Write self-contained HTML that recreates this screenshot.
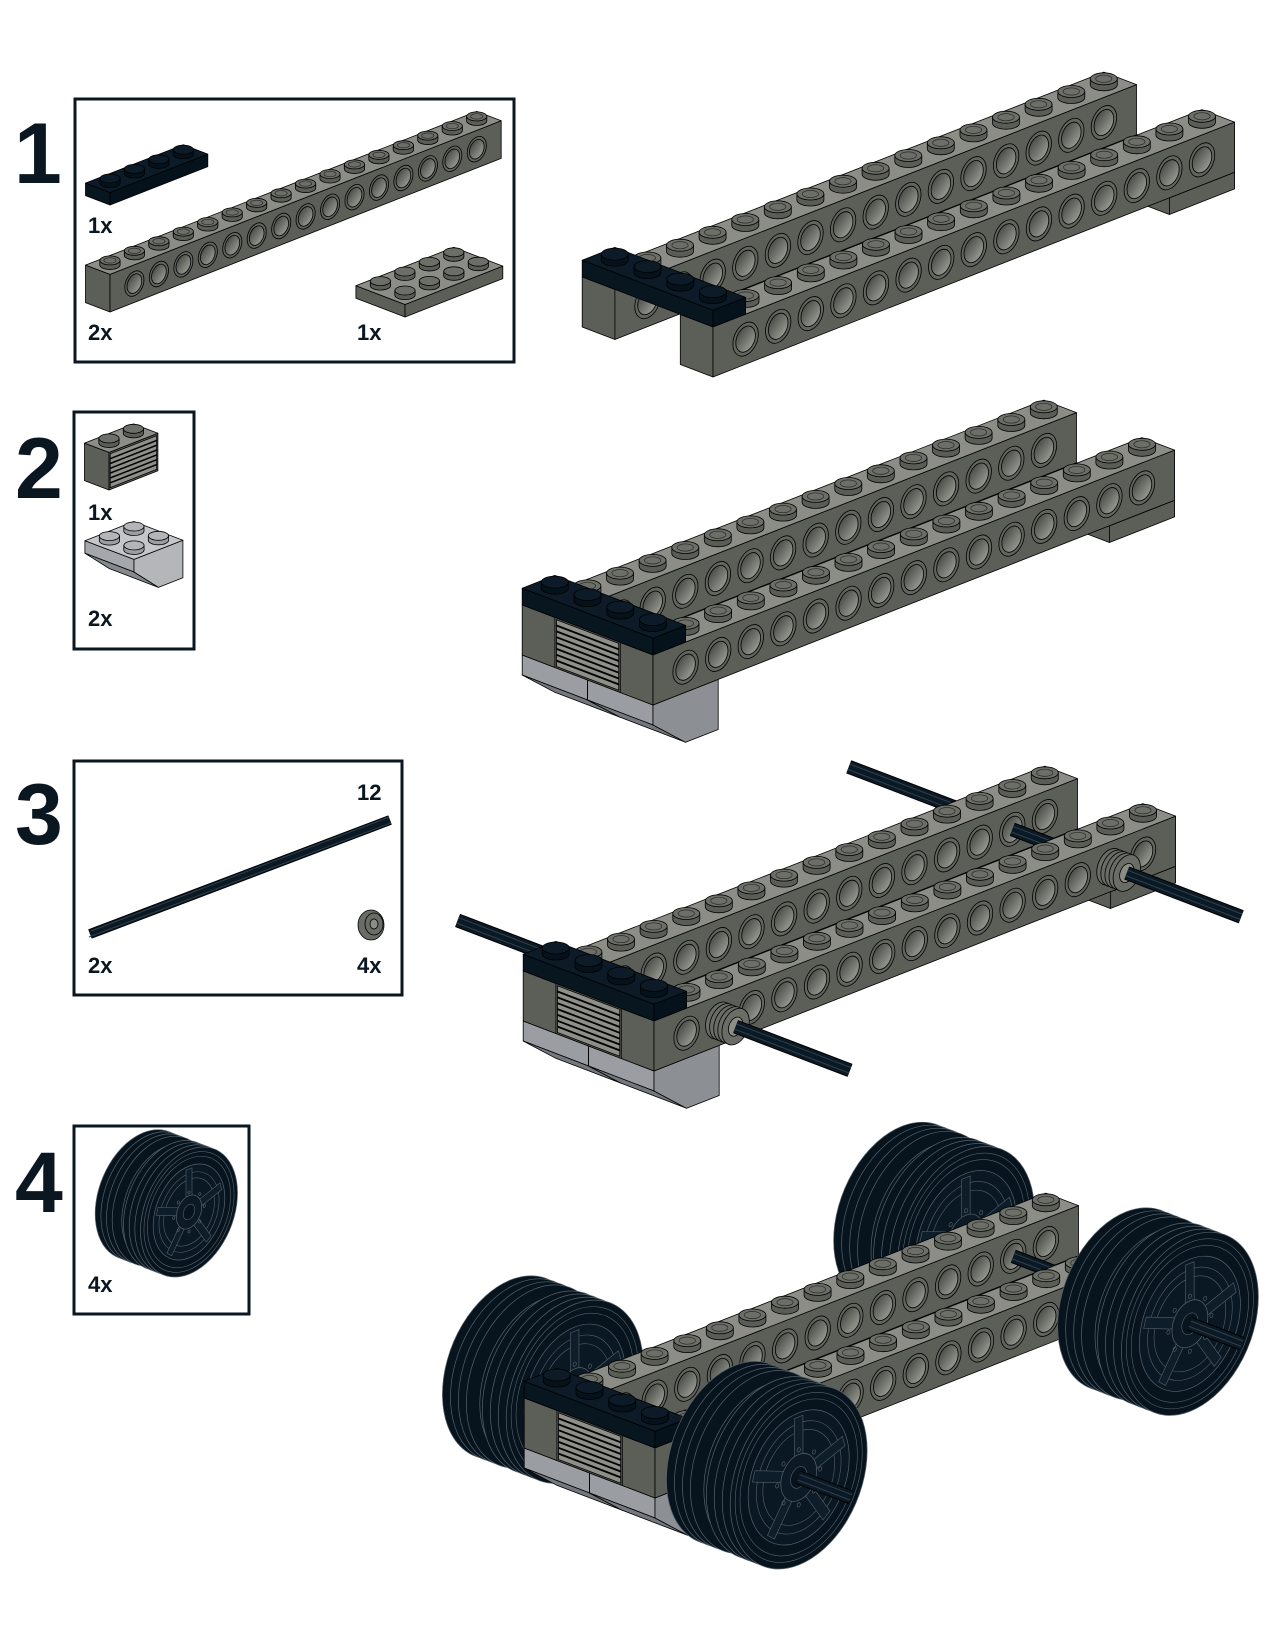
<!DOCTYPE html>
<html><head><meta charset="utf-8">
<style>
html,body{margin:0;padding:0;background:#fff;width:1275px;height:1650px;overflow:hidden}
svg{display:block}
.n{font-family:"Liberation Sans",sans-serif;font-weight:bold;font-size:86px;fill:#0a1620}
.l{font-family:"Liberation Sans",sans-serif;font-weight:bold;font-size:22px;fill:#0a1620}
</style></head>
<body>
<svg id="s" width="1275" height="1650" viewBox="0 0 1275 1650" xmlns="http://www.w3.org/2000/svg">
<defs>
<linearGradient id="hg" x1="0" y1="1" x2="0.8" y2="0">
<stop offset="0" stop-color="#3e403b"/><stop offset="1" stop-color="#9a9c95"/>
</linearGradient>
</defs>
<rect x="75" y="99" width="439" height="263" fill="none" stroke="#0a1620" stroke-width="3"/>
<rect x="74" y="412" width="120" height="237" fill="none" stroke="#0a1620" stroke-width="3"/>
<rect x="74" y="761" width="328" height="234" fill="none" stroke="#0a1620" stroke-width="3"/>
<rect x="74" y="1126" width="175" height="188" fill="none" stroke="#0a1620" stroke-width="3"/>
<g id="g"></g>
<text class="n" x="14" y="183">1</text>
<text class="n" x="15" y="498">2</text>
<text class="n" x="15" y="844">3</text>
<text class="n" x="15" y="1212">4</text>
<text class="l" x="88" y="233">1x</text>
<text class="l" x="88" y="340">2x</text>
<text class="l" x="357" y="340">1x</text>
<text class="l" x="88" y="520">1x</text>
<text class="l" x="88" y="626">2x</text>
<text class="l" x="357" y="800">12</text>
<text class="l" x="88" y="973">2x</text>
<text class="l" x="357" y="973">4x</text>
<text class="l" x="88" y="1292">4x</text>
</svg>
<script>
(function(){
var out=[];
var C={top:'#8b8d86',front:'#5c5e58',side:'#5c5e58',stTop:'#6c6e68',stSide:'#5a5c56'};
var BK={top:'#0c1b27',front:'#06121b',side:'#081620',stTop:'#0c1b27',stSide:'#06121b'};
function f(n){return n.toFixed(1);}
function M(O,s){var u=[32.6*s,-12.8*s],v=[-32.7*s,-12.5*s],ph=16.7*s;
 var P=function(x,y,z){return [O[0]+x*u[0]+y*v[0],O[1]+x*u[1]+y*v[1]-z*ph];};
 P.s=s;P.u=u;P.v=v;P.ph=ph;return P;}
function poly(pts,fill,sw){out.push('<polygon points="'+pts.map(function(p){return f(p[0])+','+f(p[1]);}).join(' ')+'" fill="'+fill+'" stroke="#000" stroke-width="'+(sw||0.8)+'" stroke-linejoin="round"/>');}
function line(a,b,col,w,cap){out.push('<line x1="'+f(a[0])+'" y1="'+f(a[1])+'" x2="'+f(b[0])+'" y2="'+f(b[1])+'" stroke="'+col+'" stroke-width="'+w+'" stroke-linecap="'+(cap||'butt')+'"/>');}
function box(P,x0,x1,y0,y1,z0,z1,c){
 poly([P(x0,y0,z0),P(x0,y1,z0),P(x0,y1,z1),P(x0,y0,z1)],c.side);
 poly([P(x0,y0,z0),P(x1,y0,z0),P(x1,y0,z1),P(x0,y0,z1)],c.front);
 poly([P(x0,y0,z1),P(x1,y0,z1),P(x1,y1,z1),P(x0,y1,z1)],c.top);}
function stud(P,x,y,z,c,hollow){var p=P(x,y,z),cx=p[0],cy=p[1],s=P.s,rx=13.5*s,ry=6*s,h=6*s;
 out.push('<path d="M'+f(cx-rx)+','+f(cy-h)+' L'+f(cx-rx)+','+f(cy)+' A'+f(rx)+','+f(ry)+' 0 0 0 '+f(cx+rx)+','+f(cy)+' L'+f(cx+rx)+','+f(cy-h)+'" fill="'+c.stSide+'" stroke="#000" stroke-width="0.8"/>');
 out.push('<ellipse cx="'+f(cx)+'" cy="'+f(cy-h)+'" rx="'+f(rx)+'" ry="'+f(ry)+'" fill="'+c.stTop+'" stroke="#000" stroke-width="0.8"/>');
 if(hollow)out.push('<ellipse cx="'+f(cx)+'" cy="'+f(cy-h)+'" rx="'+f(rx*0.6)+'" ry="'+f(ry*0.6)+'" fill="none" stroke="#2a2b28" stroke-width="0.7"/>');}
function studs(P,x0,x1,y0,y1,z,c,h){var L=[];for(var j=y0;j<y1;j++)for(var i=x0;i<x1;i++)L.push([i+.5,j+.5]);
 L.sort(function(a,b){return (b[0]+b[1])-(a[0]+a[1]);});L.forEach(function(q){stud(P,q[0],q[1],z,c,h);});}
function mat(P,x,y,z){var p=P(x,y,z);return 'matrix('+f(P.u[0])+','+f(P.u[1])+',0,'+f(-41.7*P.s)+','+f(p[0])+','+f(p[1])+')';}
var NS=' vector-effect="non-scaling-stroke"';
function hole(P,x,y,z){out.push('<g transform="'+mat(P,x,y,z)+'"><circle r="0.39" fill="#62645e" stroke="#000" stroke-width="0.8"'+NS+'/><circle r="0.3" fill="url(#hg)" stroke="#000" stroke-width="0.8"'+NS+'/></g>');}
function beam(P,y0){box(P,0,16,y0,y0+1,0,3,C);for(var i=1;i<=15;i++)hole(P,i,y0,1.5);studs(P,0,16,y0,y0+1,3,C,true);}
function slope(P,y0){var y1=y0+2;
 poly([P(0,y0,0),P(0,y1,0),P(0,y1,-1.2),P(0,y0,-1.2)],'#9a9da2');
 poly([P(0,y0,-1.2),P(0,y1,-1.2),P(1,y1,-3),P(1,y0,-3)],'#74787e');
 poly([P(0,y0,0),P(2,y0,0),P(2,y0,-3),P(1,y0,-3),P(0,y0,-1.2)],'#8c8f94');}
function grille(P){poly([P(0,1,0),P(0,3,0),P(0,3,3),P(0,1,3)],'#5c5e58');
 poly([P(0,1.05,0.1),P(0,2.95,0.1),P(0,2.95,2.9),P(0,1.05,2.9)],'#8d8f88');
 for(var k=1;k<8;k++){var z=0.1+k*(2.8/8);line(P(0,1.05,z),P(0,2.95,z),'#000',1.8);}}
function chassis(P,o){
 box(P,14,16,0,4,-1,0,C);
 if(o.slope){slope(P,2);slope(P,0);}
 beam(P,3);
 if(o.mid)o.mid();
 if(o.grille)grille(P);
 beam(P,0);
 box(P,0,1,0,4,3,4,BK);
 for(var j=3;j>=0;j--)stud(P,.5,j+.5,4,BK,false);}
function axle(P,x,ya,yb){var a=P(x,ya,1.5),b=P(x,yb,1.5),w=14*P.s;
 line(a,b,'#000',w);line(a,b,'#0b1925',w-2);
 var px=0.357,py=-0.934,d=2.8*P.s;
 line([a[0]+px*d,a[1]+py*d],[b[0]+px*d,b[1]+py*d],'#2e3f4c',1);
 line([a[0]-px*d,a[1]-py*d],[b[0]-px*d,b[1]-py*d],'#2e3f4c',1);}
function bush(P,x,yi,yo){for(var t=0;t<=4;t++){var y=yi+(yo-yi)*t/4;
 out.push('<g transform="'+mat(P,x,y,1.5)+'"><circle r="0.42" fill="#6a6c66" stroke="#000" stroke-width="0.8"'+NS+'/>'+(t==4?'<circle r="0.22" fill="#8b8d86" stroke="#000" stroke-width="0.8"'+NS+'/>':'')+'</g>');}}
function wheel(P,x,yF,yN,z){var n=8,R=2.1,L='#56616b';
 for(var k=0;k<=n;k++){var y=yF+(yN-yF)*k/n;var r=(k==4)?R*0.92:R;
  out.push('<g transform="'+mat(P,x,y,z)+'"><circle r="'+r+'" fill="#07141e" stroke="'+L+'" stroke-width="0.7"'+NS+'/></g>');}
 var s='';
 [1.95,1.8].forEach(function(r){s+='<circle r="'+r+'" fill="none" stroke="'+L+'" stroke-width="0.6"'+NS+'/>';});
 s+='<circle r="1.55" fill="#091823" stroke="'+L+'" stroke-width="0.7"'+NS+'/>';
 [1.3,1.1].forEach(function(r){s+='<circle r="'+r+'" fill="none" stroke="'+L+'" stroke-width="0.6"'+NS+'/>';});
 for(var a=0;a<5;a++){var an=(a*72+18)*Math.PI/180,c=Math.cos(an),sn=Math.sin(an),w=0.13,r1=0.5,r2=1.45;
  var pts=[[r1*c-w*sn,r1*sn+w*c],[r2*c-w*sn,r2*sn+w*c],[r2*c+w*sn,r2*sn-w*c],[r1*c+w*sn,r1*sn-w*c]];
  s+='<polygon points="'+pts.map(function(p){return p[0].toFixed(3)+','+p[1].toFixed(3);}).join(' ')+'" fill="#0d1e2a" stroke="'+L+'" stroke-width="0.6"'+NS+'/>';}
 s+='<circle r="0.55" fill="#0b1a25" stroke="'+L+'" stroke-width="0.7"'+NS+'/>';
 for(var b=0;b<8;b++){var ab=b*Math.PI/4;s+='<circle cx="'+(0.66*Math.cos(ab)).toFixed(3)+'" cy="'+(0.66*Math.sin(ab)).toFixed(3)+'" r="0.05" fill="none" stroke="'+L+'" stroke-width="0.6"'+NS+'/>';}
 s+='<circle r="0.25" fill="#07141e" stroke="'+L+'" stroke-width="0.6"'+NS+'/>';
 out.push('<g transform="'+mat(P,x,yN,z)+'">'+s+'</g>');}

var Pb=M([110,205],0.75);box(Pb,0,4,0,1,0,1,BK);studs(Pb,0,4,0,1,1,BK,false);
var Pa=M([110,312],0.75);beam(Pa,0);
var Pp=M([405,317],0.75);box(Pp,0,4,0,2,0,1,C);studs(Pp,0,4,0,2,1,C,false);
var Pg=M([109,490],0.75);box(Pg,0,2,0,1,0,3,C);
poly([Pg(0.05,0,0.15),Pg(1.95,0,0.15),Pg(1.95,0,2.85),Pg(0.05,0,2.85)],'#8d8f88');
for(var k=1;k<7;k++){var zz=0.15+k*(2.7/7);line(Pg(0.05,0,zz),Pg(1.95,0,zz),'#000',1.5);}
studs(Pg,0,2,0,1,3,C,false);
var Ps=M([134,597],0.75);
poly([Ps(0,0,3),Ps(0,2,3),Ps(0,2,2),Ps(0,0,2)],'#a4a7ab');
poly([Ps(0,0,2),Ps(0,2,2),Ps(1,2,0),Ps(1,0,0)],'#85898e');
poly([Ps(0,0,3),Ps(2,0,3),Ps(2,0,0),Ps(1,0,0),Ps(0,0,2)],'#b4b6b9');
poly([Ps(0,0,3),Ps(2,0,3),Ps(2,2,3),Ps(0,2,3)],'#c4c6c9');
var LG={stTop:'#b3b5b8',stSide:'#9a9da1'};studs(Ps,0,2,0,2,3,LG,false);
line([90,934],[390,820],'#000',10,'butt');line([90,934],[390,820],'#0b1925',8,'butt');
line([91,931],[389,817],'#2e3f4c',1);line([89,937],[391,823],'#2e3f4c',1);
out.push('<ellipse cx="371" cy="925" rx="13" ry="15" fill="#6a6c66" stroke="#000" stroke-width="0.8"/><ellipse cx="374" cy="924" rx="9" ry="11" fill="#6a6c66" stroke="#000" stroke-width="0.8"/><ellipse cx="374" cy="924" rx="4" ry="5" fill="#8b8d86" stroke="#000" stroke-width="0.8"/>');
var Pi=M([189,1212],0.71);wheel(Pi,0,1.95,0,0);

var P1=M([713,377],1);chassis(P1,{});
var P2=M([653,705],1);chassis(P2,{slope:true,grille:true});
var P3=M([654,1071],1);
axle(P3,2,8,4);axle(P3,14,8,4);
chassis(P3,{slope:true,grille:true,mid:function(){axle(P3,2,3,1);axle(P3,14,3,1);}});
bush(P3,2,0,-0.5);bush(P3,14,0,-0.5);
axle(P3,2,-0.5,-4);axle(P3,14,-0.5,-4);
var P4=M([655,1498],1);
wheel(P4,2,6.4,4.45,1.5);wheel(P4,14,6.4,4.45,1.5);
chassis(P4,{slope:true,grille:true,mid:function(){axle(P4,2,3,1);axle(P4,14,3,1);}});
axle(P4,2,0,-0.45);axle(P4,14,0,-0.45);
wheel(P4,14,-0.45,-2.4,1.5);wheel(P4,2,-0.45,-2.4,1.5);
axle(P4,2,-2.4,-4);axle(P4,14,-2.4,-4);

document.getElementById('g').innerHTML=out.join('');
})();
</script>
</body></html>
